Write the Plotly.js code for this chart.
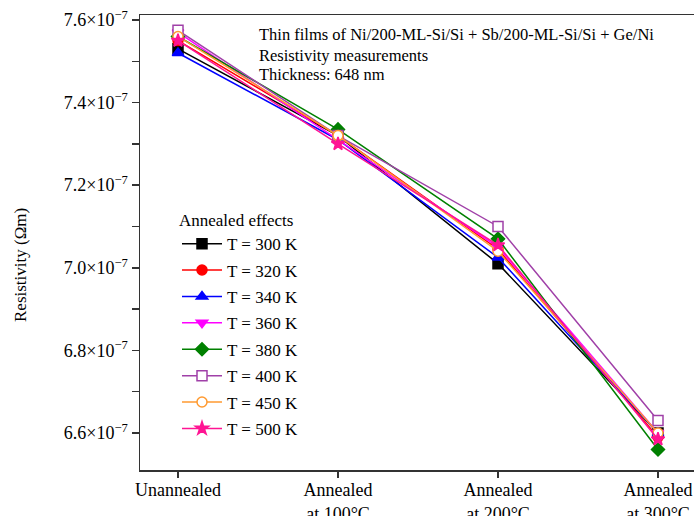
<!DOCTYPE html>
<html>
<head>
<meta charset="utf-8">
<script src="https://cdn.plot.ly/plotly-3.0.1.min.js"></script>
<style>html,body{margin:0;padding:0;overflow:hidden;background:#fff;}</style>
</head>
<body>
<div id="chart" style="width:720px;height:516px;"></div>
<script>
// Categories (x positions 0..3)
const categories = ["Unannealed", "Annealed<br>at 100°C", "Annealed<br>at 200°C", "Annealed<br>at 300°C"];
// Resistivity values in units of 1e-7 Ω·m
const T300 = [7.53, 7.32, 7.01, 6.60];
const T320 = [7.55, 7.32, 7.045, 6.59];
const T340 = [7.52, 7.31, 7.025, 6.60];
const T360 = [7.57, 7.31, 7.05, 6.60];
const T380 = [7.56, 7.335, 7.07, 6.56];
const T400 = [7.575, 7.32, 7.10, 6.63];
const T450 = [7.56, 7.32, 7.04, 6.60];
const T500 = [7.55, 7.30, 7.055, 6.585];
const seriesNames = ["T = 300 K", "T = 320 K", "T = 340 K", "T = 360 K", "T = 380 K", "T = 400 K", "T = 450 K", "T = 500 K"];
const yTickVals = [6.6, 6.8, 7.0, 7.2, 7.4, 7.6];
const yTickText = ["6.6×10<sup>−7</sup>", "6.8×10<sup>−7</sup>", "7.0×10<sup>−7</sup>", "7.2×10<sup>−7</sup>", "7.4×10<sup>−7</sup>", "7.6×10<sup>−7</sup>"];
const yMinorVals = [6.7, 6.9, 7.1, 7.3, 7.5];
const noteLines = ["Thin films of Ni/200-ML-Si/Si + Sb/200-ML-Si/Si + Ge/Ni", "Resistivity measurements", "Thickness: 648 nm"];

const xIdx = categories.map((c, i) => i);
const allSeries = [T300, T320, T340, T360, T380, T400, T450, T500];
const styles = [
  {color: "#000000", symbol: "square", fill: "#000000"},
  {color: "#ff0000", symbol: "circle", fill: "#ff0000"},
  {color: "#0000ff", symbol: "triangle-up", fill: "#0000ff"},
  {color: "#ff00ff", symbol: "triangle-down", fill: "#ff00ff"},
  {color: "#008000", symbol: "diamond", fill: "#008000"},
  {color: "#a040a8", symbol: "square", fill: "#ffffff"},
  {color: "#ff9a30", symbol: "circle", fill: "#ffffff"},
  {color: "#ff1493", symbol: "star", fill: "#ff1493"}
];

const traces = allSeries.map((ys, i) => ({
  type: "scatter",
  mode: "lines+markers",
  x: xIdx,
  y: ys,
  name: seriesNames[i],
  legendgroup: "g" + i,
  line: {color: styles[i].color, width: 1.5},
  marker: {symbol: styles[i].symbol, size: 10, color: styles[i].fill,
           line: {color: styles[i].color, width: 1.5}}
}));

const font = "Liberation Serif, Times New Roman, serif";
// plot area: x 140..710 px, y 15..470 px
const px2x = p => (p - 140) / 570;
const px2y = p => (470 - p) / 455;
const noteY = [35, 55, 74];
const annotations = noteLines.map((t, i) => ({
  xref: "paper", yref: "paper", x: px2x(257), y: px2y(noteY[i]),
  xanchor: "left", yanchor: "middle", align: "left", showarrow: false,
  text: t, font: {family: font, size: 16.5, color: "#000"}
}));
annotations.push({
  xref: "paper", yref: "paper", x: px2x(20), y: px2y(265),
  xanchor: "center", yanchor: "middle", textangle: -90, showarrow: false,
  text: "Resistivity (Ωm)", font: {family: font, size: 17, color: "#000"}
});

const layout = {
  width: 720, height: 516,
  margin: {l: 140, r: 10, t: 15, b: 46},
  paper_bgcolor: "#ffffff", plot_bgcolor: "#ffffff",
  font: {family: font, size: 17, color: "#000"},
  showlegend: true,
  legend: {
    x: px2x(177), y: px2y(204), xanchor: "left", yanchor: "top",
    bgcolor: "rgba(0,0,0,0)",
    font: {family: font, size: 17, color: "#000"},
    title: {text: "Annealed effects", font: {family: font, size: 17}},
    tracegroupgap: 1.3,
    itemwidth: 40
  },
  xaxis: {
    range: [-0.2375, 3.325],
    tickmode: "array", tickvals: xIdx, ticktext: categories,
    showline: true, linecolor: "#333", linewidth: 1.5, mirror: true,
    ticks: "outside", ticklen: 6, tickwidth: 1.5, tickcolor: "#333",
    ticklabelstandoff: -3,
    showgrid: false, zeroline: false,
    tickfont: {family: font, size: 18}
  },
  yaxis: {
    range: [6.5104, 7.612],
    tickmode: "array", tickvals: yTickVals, ticktext: yTickText,
    showline: true, linecolor: "#333", linewidth: 1.5, mirror: true,
    ticks: "outside", ticklen: 7, tickwidth: 1.5, tickcolor: "#333",
    minor: {tickmode: "array", tickvals: yMinorVals, ticks: "outside", ticklen: 7, tickwidth: 1.5, tickcolor: "#333", showgrid: false},
    showgrid: false, zeroline: false,
    tickfont: {family: font, size: 18}
  },
  annotations: annotations
};

Plotly.newPlot("chart", traces, layout, {displayModeBar: false, staticPlot: true});
</script>
</body>
</html>
